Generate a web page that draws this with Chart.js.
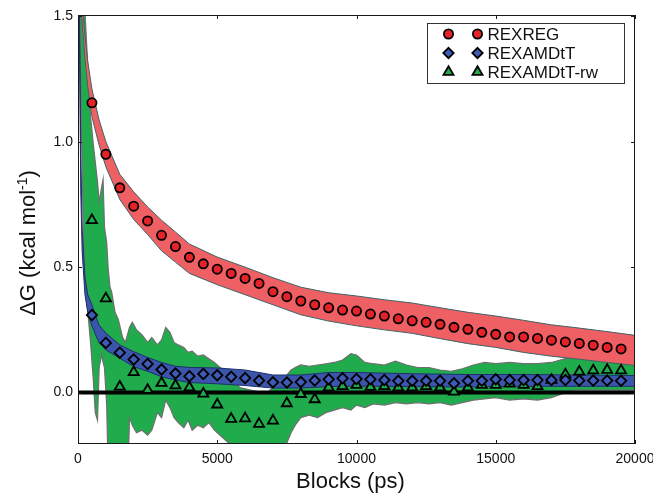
<!DOCTYPE html>
<html>
<head>
<meta charset="utf-8">
<script src="https://cdn.jsdelivr.net/npm/chart.js@4.4.1/dist/chart.umd.min.js"></script>
<style>
  html, body { margin: 0; padding: 0; background: #ffffff; }
  canvas { display: block; }
</style>
</head>
<body>
<canvas id="chart" width="653" height="493"></canvas>
<script>
// Block end times (ps) at which the estimates are marked
const blockTimes = [500, 1000, 1500, 2000, 2500, 3000, 3500, 4000, 4500, 5000,
  5500, 6000, 6500, 7000, 7500, 8000, 8500, 9000, 9500, 10000,
  10500, 11000, 11500, 12000, 12500, 13000, 13500, 14000, 14500, 15000,
  15500, 16000, 16500, 17000, 17500, 18000, 18500, 19000, 19500];

// ΔG estimates (kcal/mol) per block
const rexregValues = [1.155, 0.95, 0.816, 0.743, 0.684, 0.627, 0.582, 0.539, 0.513, 0.492,
  0.475, 0.455, 0.435, 0.402, 0.382, 0.365, 0.35, 0.338, 0.329, 0.325,
  0.313, 0.305, 0.294, 0.286, 0.28, 0.272, 0.26, 0.252, 0.24, 0.232,
  0.222, 0.222, 0.216, 0.209, 0.202, 0.196, 0.189, 0.18, 0.174];
const rexamdValues = [0.309, 0.198, 0.159, 0.132, 0.114, 0.092, 0.076, 0.065, 0.074, 0.069,
  0.063, 0.058, 0.048, 0.041, 0.04, 0.042, 0.048, 0.053, 0.057, 0.054,
  0.053, 0.05, 0.047, 0.047, 0.047, 0.047, 0.037, 0.047, 0.047, 0.053,
  0.05, 0.05, 0.05, 0.05, 0.05, 0.048, 0.048, 0.048, 0.047];
const rexamdRwValues = [0.687, 0.375, 0.023, 0.081, 0.01, 0.038, 0.028, 0.02, -0.005, -0.048,
  -0.105, -0.103, -0.125, -0.112, -0.043, -0.006, -0.027, 0.02, 0.025, 0.03,
  0.022, 0.025, 0.02, 0.02, 0.025, 0.02, 0.003, 0.02, 0.03, 0.03,
  0.035, 0.03, 0.025, 0.05, 0.072, 0.083, 0.088, 0.09, 0.088];

const seriesNames = ['REXREG', 'REXAMDtT', 'REXAMDtT-rw'];

// Uncertainty envelopes (upper / lower edge)
const rexregBandX = [80, 150, 250, 350, 500, 750, 1000, 1500, 2000, 2500, 3000, 3500, 4000, 5000,
  6000, 7000, 8000, 9000, 10000, 11000, 12000, 13000, 14000, 15000, 16000, 17000, 18000, 19000, 20000];
const rexregBandHigh = [1.75, 1.55, 1.42, 1.32, 1.21, 1.09, 1.0, 0.87, 0.8, 0.74, 0.687, 0.64, 0.592, 0.54,
  0.5, 0.458, 0.42, 0.398, 0.385, 0.37, 0.357, 0.338, 0.32, 0.305, 0.288, 0.27, 0.257, 0.243, 0.228];
const rexregBandLow = [1.62, 1.47, 1.33, 1.22, 1.1, 0.99, 0.9, 0.77, 0.69, 0.63, 0.565, 0.52, 0.475, 0.43,
  0.39, 0.35, 0.31, 0.285, 0.266, 0.25, 0.236, 0.215, 0.195, 0.18, 0.16, 0.145, 0.133, 0.12, 0.108];

const rexamdBandX = [30, 60, 100, 150, 250, 350, 500, 750, 1000, 1500, 2000, 2500, 3000, 3500, 4000,
  5000, 6000, 7000, 8000, 9000, 10000, 12000, 14000, 16000, 18000, 20000];
const rexamdBandHigh = [1.8, 1.45, 0.95, 0.65, 0.46, 0.39, 0.35, 0.27, 0.237, 0.19, 0.163, 0.14, 0.12, 0.105, 0.1,
  0.098, 0.09, 0.07, 0.07, 0.08, 0.08, 0.075, 0.072, 0.072, 0.07, 0.068];
const rexamdBandLow = [1.7, 1.3, 0.8, 0.56, 0.39, 0.32, 0.265, 0.2, 0.17, 0.137, 0.103, 0.085, 0.063, 0.05, 0.04,
  0.035, 0.028, 0.018, 0.018, 0.024, 0.026, 0.024, 0.022, 0.025, 0.025, 0.025];

const rwBandX = [60, 100, 200, 250, 370, 450, 550, 620, 700, 760,
  850, 900, 950, 1030, 1080, 1150, 1210, 1330, 1450, 1600,
  1700, 1800, 1850, 1950, 2100, 2300, 2500, 2650, 2850, 3000,
  3150, 3300, 3450, 3600, 3800, 3950, 4100, 4300, 4500, 4700,
  4900, 5100, 5300, 5500, 5600, 5800, 6000, 6200, 6400, 6600,
  6800, 7000, 7200, 7400, 7500, 7650, 7800, 8000, 8300, 8600,
  8900, 9200, 9500, 9800, 10000, 10300, 10600, 11000, 11400, 11800,
  12200, 12600, 13000, 13400, 13800, 14200, 14600, 15000, 15500, 16000,
  16500, 17000, 17500, 17800, 18500, 19000, 19500, 20000];
const rwBandHigh = [1.7, 1.65, 1.6, 1.52, 1.26, 1.1, 0.99, 0.92, 0.84, 0.76,
  0.82, 0.85, 0.66, 0.6, 0.5, 0.42, 0.40, 0.32, 0.29, 0.22,
  0.20, 0.24, 0.26, 0.28, 0.25, 0.23, 0.20, 0.22, 0.19, 0.21,
  0.26, 0.24, 0.2, 0.19, 0.18, 0.16, 0.165, 0.145, 0.15, 0.135,
  0.12, 0.1, 0.09, 0.085, 0.06, 0.02, 0.015, 0.01, 0.005, -0.01,
  0.0, 0.02, 0.035, 0.04, 0.07, 0.09, 0.1, 0.11, 0.105, 0.11,
  0.115, 0.12, 0.13, 0.155, 0.15, 0.12, 0.115, 0.11, 0.125, 0.11,
  0.1, 0.1, 0.09, 0.085, 0.095, 0.11, 0.12, 0.115, 0.12, 0.115,
  0.115, 0.12, 0.135, 0.14, 0.145, 0.145, 0.14, 0.14];
const rwBandLow = [1.6, 1.2, 0.6, 0.45, 0.3, 0.2, 0.05, -0.08, -0.11, 0.1,
  0.15, 0.12, 0.1, -0.05, -0.3, -0.3, -0.3, -0.3, -0.3, -0.3,
  -0.3, -0.3, -0.1, -0.13, -0.16, -0.15, -0.17, -0.15, -0.08, -0.1,
  -0.03, -0.06, -0.1, -0.12, -0.14, -0.11, -0.15, -0.13, -0.14, -0.12,
  -0.15, -0.17, -0.19, -0.21, -0.3, -0.3, -0.3, -0.3, -0.3, -0.3,
  -0.3, -0.3, -0.3, -0.25, -0.2, -0.16, -0.13, -0.1, -0.09, -0.1,
  -0.08, -0.07, -0.06, -0.07, -0.05, -0.06, -0.045, -0.05, -0.04, -0.045,
  -0.04, -0.045, -0.04, -0.05, -0.04, -0.03, -0.025, -0.02, -0.03, -0.025,
  -0.03, -0.02, 0.0, 0.01, 0.01, 0.01, 0.01, 0.01];

// Reference line at ΔG = 0
const zeroLineX = [0, 20000];
const zeroLineY = [0, 0];

// Axis ticks
const xTickValues = [0, 5000, 10000, 15000, 20000];
const yTickValues = [0.0, 0.5, 1.0, 1.5];

const FONT = '"Liberation Sans", Arial, Helvetica, sans-serif';
const COLORS = {
  circle: '#e42229', diamond: '#3f5bb8', triangle: '#21ab4c',
  redBand: '#ee6064', redEdge: '#3d6466',
  blueBand: '#3a55ab', blueEdge: '#1d2f6a',
  greenBand: '#20ab4c', greenEdge: '#6f6f6f'
};

function toPoints(xs, ys) {
  return xs.map((x, i) => ({ x: x, y: ys[i] }));
}

function markerSet(label, ys, style, radius, fill, order) {
  return {
    label: label,
    data: toPoints(blockTimes, ys),
    showLine: false,
    pointStyle: style,
    pointRadius: radius,
    pointBorderWidth: 1.8,
    pointBackgroundColor: fill,
    pointBorderColor: '#000000',
    order: order
  };
}

function bandSets(xs, hi, lo, fill, edge, edgeWidth, order) {
  return [
    {
      data: toPoints(xs, hi), fill: '+1', backgroundColor: fill,
      borderColor: edge, borderWidth: edgeWidth, pointRadius: 0, tension: 0, order: order + 0.5
    },
    {
      data: toPoints(xs, lo), fill: false,
      borderColor: edge, borderWidth: edgeWidth, pointRadius: 0, tension: 0, order: order
    }
  ];
}

const datasets = [
  markerSet(seriesNames[0], rexregValues, 'circle', 4.6, COLORS.circle, 0),
  markerSet(seriesNames[1], rexamdValues, 'rectRot', 5.2, COLORS.diamond, 1),
  markerSet(seriesNames[2], rexamdRwValues, 'triangle', 5.8, COLORS.triangle, 2),
  {
    data: toPoints(zeroLineX, zeroLineY), borderColor: '#000000', borderWidth: 4,
    pointRadius: 0, fill: false, order: 3
  },
  ...bandSets(rexregBandX, rexregBandHigh, rexregBandLow, COLORS.redBand, COLORS.redEdge, 1, 4),
  ...bandSets(rexamdBandX, rexamdBandHigh, rexamdBandLow, COLORS.blueBand, COLORS.blueEdge, 1, 5),
  ...bandSets(rwBandX, rwBandHigh, rwBandLow, COLORS.greenBand, COLORS.greenEdge, 1.2, 6)
];

function drawMarker(ctx, style, x, y, r, fill) {
  ctx.beginPath();
  if (style === 'circle') {
    ctx.arc(x, y, r, 0, Math.PI * 2);
  } else if (style === 'rectRot') {
    ctx.moveTo(x, y - r); ctx.lineTo(x + r, y); ctx.lineTo(x, y + r); ctx.lineTo(x - r, y);
    ctx.closePath();
  } else {
    ctx.moveTo(x, y - r);
    ctx.lineTo(x + r * Math.sin(2 * Math.PI / 3), y - r * Math.cos(2 * Math.PI / 3));
    ctx.lineTo(x + r * Math.sin(4 * Math.PI / 3), y - r * Math.cos(4 * Math.PI / 3));
    ctx.closePath();
  }
  ctx.fillStyle = fill;
  ctx.fill();
  ctx.lineWidth = 1.8;
  ctx.strokeStyle = '#000000';
  ctx.stroke();
}

// Frame, inward tick marks, axis titles and the legend box
const decorations = {
  id: 'decorations',
  afterDatasetsDraw(chart) {
    const { ctx, chartArea: a, scales } = chart;
    ctx.save();
    ctx.strokeStyle = '#1a1a1a';
    ctx.lineWidth = 1;
    ctx.beginPath();
    xTickValues.forEach(v => {
      const px = Math.round(scales.x.getPixelForValue(v)) + 0.5;
      ctx.moveTo(px, a.bottom); ctx.lineTo(px, a.bottom - 4);
      ctx.moveTo(px, a.top); ctx.lineTo(px, a.top + 4);
    });
    yTickValues.forEach(v => {
      const py = Math.round(scales.y.getPixelForValue(v)) + 0.5;
      ctx.moveTo(a.left, py); ctx.lineTo(a.left + 4, py);
      ctx.moveTo(a.right, py); ctx.lineTo(a.right - 4, py);
    });
    ctx.stroke();
    ctx.strokeRect(Math.round(a.left) + 0.5, Math.round(a.top) + 0.5,
      Math.round(a.right) - Math.round(a.left) - 1, Math.round(a.bottom) - Math.round(a.top) - 1);
    ctx.restore();
  },
  afterDraw(chart) {
    const { ctx, chartArea: a } = chart;
    ctx.save();
    ctx.fillStyle = '#111111';

    // x-axis title
    ctx.font = '22px ' + FONT;
    ctx.textAlign = 'center';
    ctx.textBaseline = 'middle';
    ctx.fillText('Blocks (ps)', (a.left + a.right) / 2 - 6, 482);

    // y-axis title with superscript exponent
    const main = 'ΔG (kcal mol', sup = '-1', tail = ')';
    ctx.font = '22px ' + FONT;
    const w1 = ctx.measureText(main).width;
    const w3 = ctx.measureText(tail).width;
    ctx.font = '14px ' + FONT;
    const w2 = ctx.measureText(sup).width;
    const total = w1 + w2 + w3;
    ctx.translate(27, 243);
    ctx.rotate(-Math.PI / 2);
    ctx.textAlign = 'left';
    ctx.textBaseline = 'alphabetic';
    const base = 7.6;
    ctx.font = '22px ' + FONT;
    ctx.fillText(main, -total / 2, base);
    ctx.font = '14px ' + FONT;
    ctx.fillText(sup, -total / 2 + w1, base - 8);
    ctx.font = '22px ' + FONT;
    ctx.fillText(tail, -total / 2 + w1 + w2, base);
    ctx.setTransform(1, 0, 0, 1, 0, 0);

    // legend
    const boxW = 197, boxH = 60;
    const boxL = Math.round(a.right) - 11 - boxW + 0.5;
    const boxT = Math.round(a.top) + 8 + 0.5;
    ctx.fillStyle = '#ffffff';
    ctx.fillRect(boxL, boxT, boxW, boxH);
    ctx.strokeStyle = '#333333';
    ctx.lineWidth = 1;
    ctx.strokeRect(boxL, boxT, boxW, boxH);
    const styles = [['circle', 4.6, COLORS.circle], ['rectRot', 5.2, COLORS.diamond], ['triangle', 5.8, COLORS.triangle]];
    const rowY = [boxT + 10.5, boxT + 29.5, boxT + 48.5];
    seriesNames.forEach((name, i) => {
      const [st, r, col] = styles[i];
      drawMarker(ctx, st, boxL + 21, rowY[i], r, col);
      drawMarker(ctx, st, boxL + 50, rowY[i], r, col);
      ctx.fillStyle = '#111111';
      ctx.font = '17px ' + FONT;
      ctx.textAlign = 'left';
      ctx.textBaseline = 'middle';
      ctx.fillText(name, boxL + 60, rowY[i] + 1);
    });
    ctx.restore();
  }
};

new Chart(document.getElementById('chart').getContext('2d'), {
  type: 'line',
  data: { datasets: datasets },
  options: {
    responsive: false,
    animation: false,
    events: [],
    parsing: false,
    layout: { padding: { top: 15, right: 18, left: 0, bottom: 0 } },
    plugins: { legend: { display: false }, tooltip: { enabled: false } },
    scales: {
      x: {
        type: 'linear', min: 0, max: 20000,
        afterBuildTicks: s => { s.ticks = xTickValues.map(v => ({ value: v })); },
        afterFit: s => { s.height = 49; s.paddingLeft = 0; s.paddingRight = 0; },
        grid: { display: false, drawTicks: false },
        border: { display: false },
        ticks: {
          font: { family: FONT, size: 14 }, color: '#111111', padding: 7,
          maxRotation: 0, autoSkip: false, callback: v => String(v)
        }
      },
      y: {
        type: 'linear', min: -0.205, max: 1.505,
        afterBuildTicks: s => { s.ticks = yTickValues.map(v => ({ value: v })); },
        afterFit: s => { s.width = 78; s.paddingTop = 0; s.paddingBottom = 0; },
        grid: { display: false, drawTicks: false },
        border: { display: false },
        ticks: {
          font: { family: FONT, size: 14 }, color: '#111111', padding: 5,
          autoSkip: false, callback: v => v.toFixed(1)
        }
      }
    }
  },
  plugins: [decorations]
});
</script>
</body>
</html>
